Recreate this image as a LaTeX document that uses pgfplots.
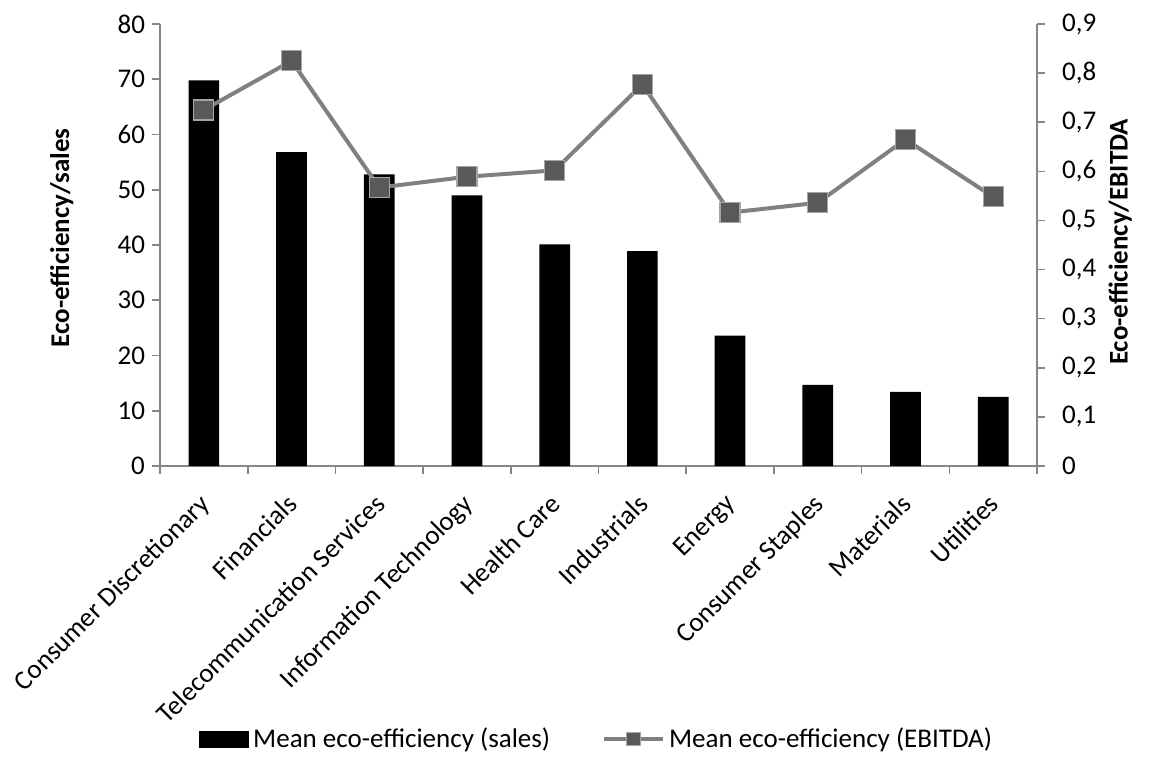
\documentclass[border=0pt]{standalone}
\usepackage{fontspec}
\setmainfont{Carlito}
\usepackage{pgfplots}
\pgfplotsset{compat=1.18}

\definecolor{AxisGray}{RGB}{134,134,134}
\definecolor{LineGray}{RGB}{128,128,128}
\definecolor{MarkFill}{RGB}{89,89,89}
\definecolor{MarkEdge}{RGB}{165,165,165}

\pgfplotsset{
  chartbase/.style={
    at={(80pt,147pt)}, anchor=south west,
    scale only axis, width=438.5pt, height=221pt,
    xmin=-0.5, xmax=9.5, ymin=0,
    tick align=outside,
    major tick length=4pt, minor tick length=4pt,
    axis line style={AxisGray, line width=0.8pt},
    tick style={AxisGray, line width=0.8pt},
    ticklabel style={font=\fontsize{13.5}{16}\selectfont},
    /pgf/number format/assume math mode=true,
    label style={font=\bfseries\fontsize{13.5}{16}\selectfont},
  },
}

\begin{document}
\begin{tikzpicture}
\path[use as bounding box] (0,0) rectangle (578pt,380pt);

% bars: mean eco-efficiency on sales
\begin{axis}[
  chartbase,
  ymax=80,
  axis y line*=left, axis x line*=bottom,
  ytick={0,10,...,80},
  xtick={0,...,9},
  xticklabels={Consumer Discretionary, Financials, Telecommunication Services,
    Information Technology, Health Care, Industrials, Energy,
    Consumer Staples, Materials, Utilities},
  minor xtick={-0.5,0.5,...,9.5},
  every major x tick/.style={draw=none},
  xticklabel style={xshift=-3pt, yshift=-9pt, rotate=45, anchor=north east, inner sep=0pt},
  ylabel={Eco-efficiency/sales},
  ylabel style={at={(axis description cs:-0.112,0.516)}, anchor=center},
  ybar, bar width=15.35pt,
  legend columns=2,
  legend style={at={(axis description cs:0.499,-0.618)}, anchor=center,
    draw=none, font=\fontsize{13.5}{16}\selectfont,
    /tikz/every even column/.append style={column sep=24pt}},
]
\addplot[fill=black, draw=none,
  legend image code/.code={\fill[black] (0pt,-4.25pt) rectangle (25pt,4.25pt);}]
  coordinates {(0,69.8) (1,56.8) (2,52.8) (3,49.0) (4,40.1)
               (5,38.9) (6,23.6) (7,14.7) (8,13.4) (9,12.5)};
\addlegendentry{Mean eco-efficiency (sales)}
\addlegendimage{legend image code/.code={
    \draw[LineGray, line width=2pt] (0pt,0pt) -- (29.5pt,0pt);
    \draw[MarkEdge, fill=MarkFill, line width=0.5pt] (11.25pt,-3.25pt) rectangle (18.25pt,3.25pt);}}
\addlegendentry{Mean eco-efficiency (EBITDA)}
\end{axis}

% line: mean eco-efficiency on EBITDA
\begin{axis}[
  chartbase,
  ymax=0.9,
  axis y line*=right, axis x line=none,
  ytick={0,0.1,0.2,0.3,0.4,0.5,0.6,0.7,0.8,0.9},
  yticklabel style={xshift=5pt, /pgf/number format/.cd, use comma, fixed, precision=1},
  ylabel={Eco-efficiency/EBITDA},
  ylabel style={at={(axis description cs:1.095,0.507)}, anchor=center},
  clip=false,
]
\addplot[LineGray, line width=2pt, mark=square*, mark size=5pt,
  mark options={fill=MarkFill, draw=MarkEdge, line width=0.6pt}]
  coordinates {(0,0.725) (1,0.825) (2,0.567) (3,0.589) (4,0.602)
               (5,0.777) (6,0.516) (7,0.536) (8,0.665) (9,0.548)};
\end{axis}
\end{tikzpicture}
\end{document}
